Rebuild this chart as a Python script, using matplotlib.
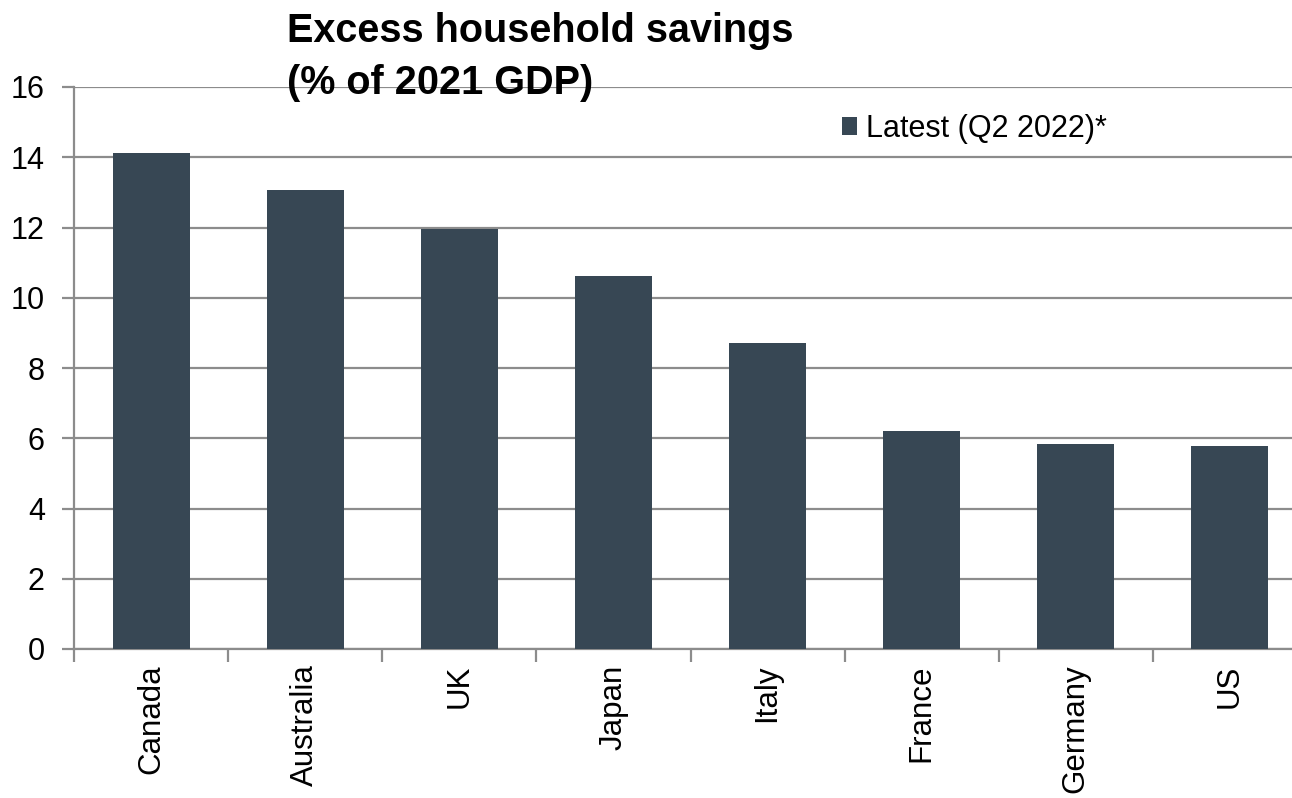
import matplotlib.pyplot as plt
import numpy as np

# data
paises = ['Canada', 'Australia', 'UK', 'Japan', 'Italy', 'France', 'Germany', 'US']
ahorro = [14.12, 13.08, 11.95, 10.63, 8.72, 6.22, 5.84, 5.77]
serie = 'Latest (Q2 2022)*'

plt.rcParams['font.family'] = ['Liberation Sans', 'DejaVu Sans']

W, H = 1292, 798
fig = plt.figure(figsize=(W / 100, H / 100), dpi=100)
# el eje sigue más allá del borde derecho de la figura
ax = fig.add_axes([74 / W, 1 - 649 / H, (1307 - 74) / W, (649 - 87) / H])

x = np.arange(len(paises))
ax.bar(x, ahorro, width=0.5, color='#374754', label=serie, zorder=3)

gris = '#8c8c8c'
ax.set_ylim(0, 16)
ax.set_xlim(-0.5, len(paises) - 0.5)
ax.set_yticks(range(0, 17, 2))
ax.yaxis.grid(True, color=gris, linewidth=1.6, zorder=0)
ax.set_xticks(x)
ax.set_xticklabels(paises, rotation=90, fontsize=22.5)
ax.set_xticks(np.arange(-0.5, len(paises)), minor=True)
ax.tick_params(axis='x', which='major', length=0, pad=11)
ax.tick_params(axis='x', which='minor', length=9, width=1.6, color=gris)
ax.tick_params(axis='y', length=9, width=1.6, color=gris, labelsize=22, pad=12)

for lado in ['top', 'right']:
    ax.spines[lado].set_visible(False)
for lado in ['left', 'bottom']:
    ax.spines[lado].set_color(gris)
    ax.spines[lado].set_linewidth(1.6)

fig.text(287 / W, 1 - 12 / H, 'Excess household savings\n(% of 2021 GDP)',
         fontsize=28.5, fontweight='bold', ha='left', va='top', linespacing=1.48,
         zorder=5)

ax.legend(loc='center left', bbox_to_anchor=(842 / W, 1 - 129 / H),
          bbox_transform=fig.transFigure, frameon=False, borderpad=0,
          fontsize=22, handlelength=0.5, handleheight=0.5, handletextpad=0.27,
          borderaxespad=0)

fig.savefig('out.png', dpi=100)
